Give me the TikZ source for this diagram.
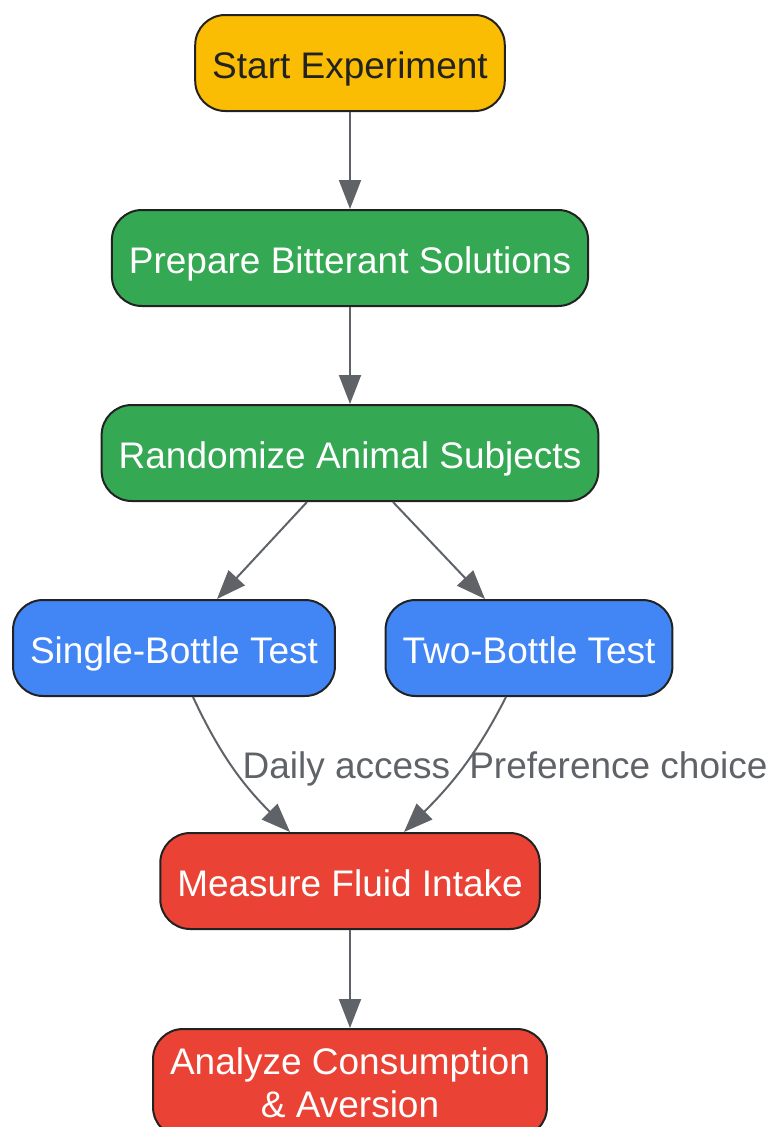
\documentclass[tikz,border=0pt]{standalone}
\usepackage{fontspec}
\setmainfont{Liberation Sans}
\usetikzlibrary{arrows.meta}
\definecolor{gyellow}{HTML}{FBBC04}
\definecolor{ggreen}{HTML}{34A853}
\definecolor{gblue}{HTML}{4285F4}
\definecolor{gred}{HTML}{EA4335}
\definecolor{ggray}{HTML}{5F6368}
\definecolor{ink}{HTML}{222222}
\tikzset{box/.style={draw=ink, line width=2pt, rounded corners=30pt,
         fill=#1, text=white, inner xsep=17pt,
         font=\fontsize{37}{43}\selectfont},
         box/.default={ggreen},
         oneline/.style={box=#1, minimum height=96pt,
         text height=30pt, text depth=0pt},
         flow/.style={draw=ggray, line width=2pt,
         -{Triangle[length=29pt,width=22pt]}},
         lbl/.style={text=ggray, font=\fontsize{37}{43}\selectfont,
         anchor=west, inner xsep=7pt, text height=27pt, text depth=8pt}}

\begin{document}
\begin{tikzpicture}[x=1pt,y=1pt]
  \useasboundingbox (0,0) rectangle (771,-1127);

  \node[oneline=gyellow, text=ink] (start) at (350,-63) {Start Experiment};
  \node[oneline=ggreen] (prep) at (350,-258) {Prepare Bitterant Solutions};
  \node[oneline=ggreen] (rand) at (350,-453) {Randomize Animal Subjects};
  \node[oneline=gblue] (single) at (174,-648) {Single-Bottle Test};
  \node[oneline=gblue] (two) at (529,-648) {Two-Bottle Test};
  \node[oneline=gred] (measure) at (350,-881) {Measure Fluid Intake};
  \node[box=gred, align=center, anchor=north, inner ysep=19pt] (analyze)
    at (350,-1028) {Analyze Consumption\\ \& Aversion};

  \draw[flow] (start) -- (prep);
  \draw[flow] (prep) -- (rand);
  \draw[flow] ([xshift=-43pt]rand.south) -- ([xshift=43pt]single.north);
  \draw[flow] ([xshift=43pt]rand.south) -- ([xshift=-44pt]two.north);
  \draw[flow] ([xshift=19pt]single.south) to[out=-65,in=135]
    node[lbl,pos=.5] {Daily access} ([xshift=-60pt]measure.north);
  \draw[flow] ([xshift=-23pt]two.south) to[out=-117,in=45]
    node[lbl,pos=.5] {Preference choice} ([xshift=54pt]measure.north);
  \draw[flow] (measure) -- (analyze);
\end{tikzpicture}
\end{document}
